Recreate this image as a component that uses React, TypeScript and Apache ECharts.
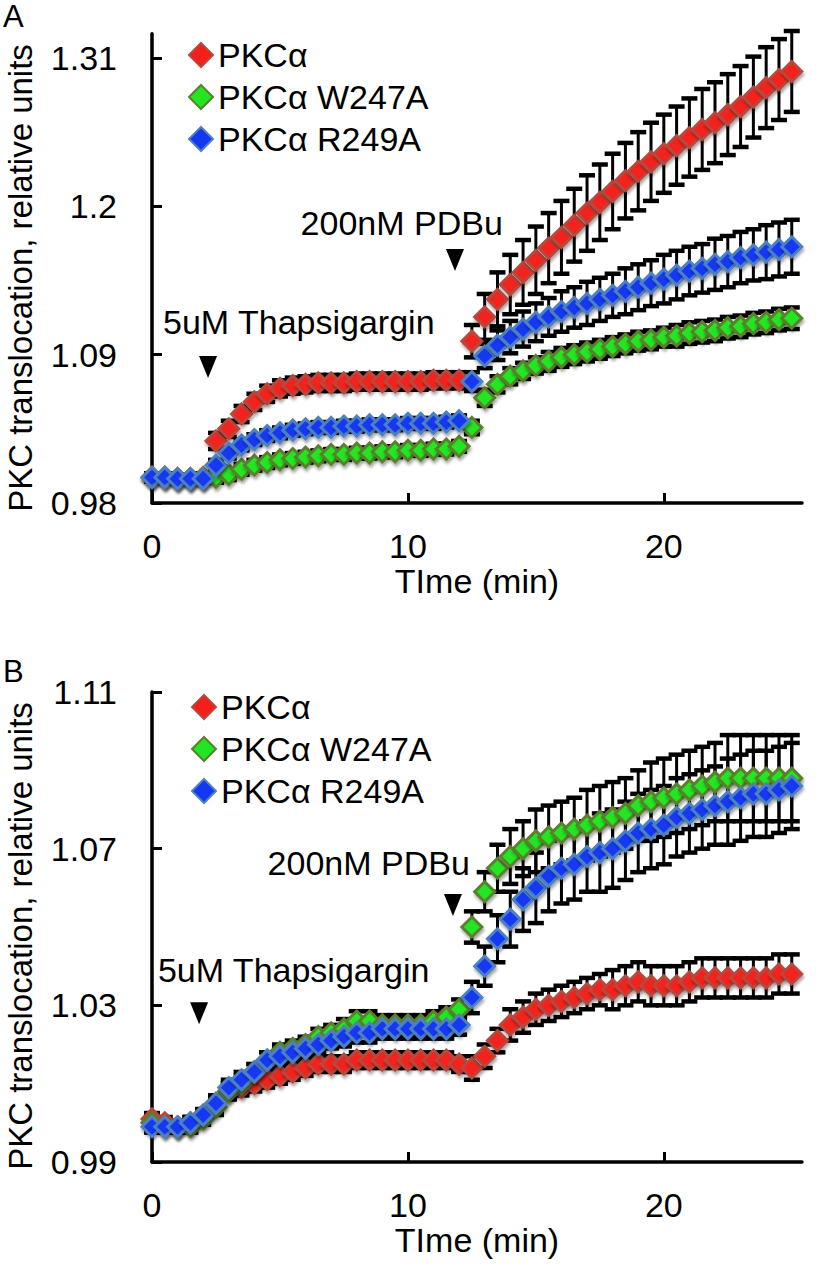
import React, { useEffect, useRef } from "react";
import * as echarts from "echarts";

const FONT = "'Liberation Sans', Arial, Helvetica, sans-serif";

const SERIES_NAMES = ["PKCα", "PKCα W247A", "PKCα R249A"];

const TIME = [0, 0.5, 1, 1.5, 2, 2.5, 3, 3.5, 4, 4.5, 5, 5.5, 6, 6.5, 7, 7.5, 8, 8.5, 9, 9.5, 10, 10.5, 11, 11.5, 12, 12.5, 13, 13.5, 14, 14.5, 15, 15.5, 16, 16.5, 17, 17.5, 18, 18.5, 19, 19.5, 20, 20.5, 21, 21.5, 22, 22.5, 23, 23.5, 24, 24.5, 25];

const X_TICKS = [0, 10, 20];
const A_Y_TICKS = [0.98, 1.09, 1.2, 1.31];
const B_Y_TICKS = [0.99, 1.03, 1.07, 1.11];

// Panel A
const A_WT = [0.999, 0.999, 0.998, 0.998, 0.999, 1.026, 1.035, 1.046, 1.055, 1.061, 1.065, 1.067, 1.068, 1.069, 1.069, 1.069, 1.070, 1.070, 1.070, 1.070, 1.070, 1.070, 1.071, 1.071, 1.071, 1.100, 1.118, 1.131, 1.142, 1.151, 1.160, 1.169, 1.177, 1.186, 1.195, 1.203, 1.211, 1.219, 1.226, 1.233, 1.239, 1.245, 1.251, 1.257, 1.262, 1.268, 1.274, 1.281, 1.288, 1.294, 1.300];
const A_W247A = [0.999, 0.999, 0.998, 0.998, 0.998, 0.999, 1.001, 1.005, 1.008, 1.010, 1.012, 1.013, 1.014, 1.015, 1.016, 1.016, 1.017, 1.017, 1.018, 1.018, 1.019, 1.019, 1.020, 1.020, 1.022, 1.036, 1.058, 1.068, 1.074, 1.078, 1.082, 1.085, 1.088, 1.090, 1.092, 1.094, 1.096, 1.098, 1.100, 1.101, 1.103, 1.104, 1.106, 1.107, 1.108, 1.110, 1.111, 1.113, 1.114, 1.116, 1.117];
const A_R249A = [0.999, 0.999, 0.998, 0.998, 0.998, 1.008, 1.017, 1.023, 1.027, 1.030, 1.032, 1.034, 1.035, 1.036, 1.036, 1.037, 1.037, 1.038, 1.038, 1.038, 1.039, 1.039, 1.039, 1.040, 1.041, 1.070, 1.089, 1.097, 1.103, 1.109, 1.114, 1.118, 1.122, 1.125, 1.128, 1.131, 1.134, 1.137, 1.140, 1.143, 1.146, 1.149, 1.152, 1.154, 1.157, 1.159, 1.162, 1.164, 1.166, 1.168, 1.170];

const A_WT_ERR = [0.003, 0.003, 0.003, 0.003, 0.003, 0.006, 0.006, 0.006, 0.006, 0.006, 0.006, 0.006, 0.006, 0.006, 0.006, 0.006, 0.006, 0.006, 0.006, 0.006, 0.006, 0.006, 0.006, 0.006, 0.006, 0.012, 0.017, 0.020, 0.022, 0.024, 0.025, 0.026, 0.027, 0.027, 0.028, 0.028, 0.028, 0.028, 0.029, 0.029, 0.029, 0.029, 0.029, 0.030, 0.030, 0.030, 0.030, 0.030, 0.030, 0.030, 0.030];
const A_W247A_ERR = [0.003, 0.003, 0.003, 0.003, 0.003, 0.004, 0.004, 0.004, 0.004, 0.004, 0.004, 0.004, 0.004, 0.004, 0.004, 0.004, 0.004, 0.004, 0.004, 0.004, 0.004, 0.004, 0.004, 0.004, 0.004, 0.005, 0.006, 0.006, 0.006, 0.006, 0.006, 0.007, 0.007, 0.007, 0.007, 0.007, 0.007, 0.007, 0.007, 0.007, 0.007, 0.008, 0.008, 0.008, 0.008, 0.008, 0.008, 0.008, 0.008, 0.008, 0.008];
const A_R249A_ERR = [0.003, 0.003, 0.003, 0.003, 0.003, 0.004, 0.004, 0.004, 0.004, 0.004, 0.004, 0.004, 0.004, 0.004, 0.004, 0.004, 0.004, 0.004, 0.004, 0.004, 0.004, 0.004, 0.004, 0.004, 0.004, 0.007, 0.009, 0.011, 0.012, 0.013, 0.014, 0.014, 0.015, 0.015, 0.016, 0.016, 0.016, 0.017, 0.017, 0.017, 0.018, 0.018, 0.018, 0.018, 0.019, 0.019, 0.019, 0.019, 0.020, 0.020, 0.020];

// Panel B
const B_WT = [1.001, 1.000, 0.999, 1.000, 1.002, 1.005, 1.008, 1.009, 1.010, 1.011, 1.012, 1.013, 1.014, 1.015, 1.015, 1.015, 1.016, 1.016, 1.016, 1.016, 1.016, 1.016, 1.016, 1.016, 1.015, 1.014, 1.017, 1.021, 1.025, 1.027, 1.029, 1.030, 1.031, 1.032, 1.033, 1.034, 1.034, 1.035, 1.036, 1.035, 1.035, 1.035, 1.036, 1.037, 1.037, 1.037, 1.037, 1.037, 1.037, 1.038, 1.038];
const B_W247A = [1.000, 0.999, 0.999, 0.999, 1.001, 1.004, 1.008, 1.010, 1.013, 1.016, 1.018, 1.019, 1.020, 1.022, 1.023, 1.024, 1.026, 1.026, 1.025, 1.025, 1.025, 1.025, 1.026, 1.027, 1.029, 1.050, 1.059, 1.065, 1.068, 1.070, 1.072, 1.073, 1.074, 1.075, 1.076, 1.077, 1.078, 1.079, 1.081, 1.082, 1.083, 1.084, 1.085, 1.086, 1.087, 1.088, 1.088, 1.088, 1.088, 1.088, 1.088];
const B_R249A = [0.999, 0.999, 0.999, 1.000, 1.002, 1.005, 1.009, 1.011, 1.013, 1.016, 1.017, 1.018, 1.019, 1.020, 1.021, 1.022, 1.023, 1.023, 1.024, 1.024, 1.024, 1.024, 1.024, 1.024, 1.025, 1.032, 1.040, 1.047, 1.052, 1.057, 1.060, 1.063, 1.065, 1.066, 1.068, 1.069, 1.070, 1.072, 1.074, 1.075, 1.076, 1.078, 1.079, 1.080, 1.081, 1.082, 1.083, 1.084, 1.084, 1.085, 1.086];

const B_WT_ERR = [0.0015, 0.0015, 0.0015, 0.0015, 0.0015, 0.002, 0.002, 0.002, 0.002, 0.002, 0.002, 0.002, 0.002, 0.002, 0.002, 0.002, 0.002, 0.002, 0.002, 0.002, 0.002, 0.002, 0.002, 0.002, 0.002, 0.003, 0.003, 0.003, 0.004, 0.004, 0.004, 0.004, 0.004, 0.004, 0.004, 0.004, 0.005, 0.005, 0.005, 0.005, 0.005, 0.005, 0.005, 0.005, 0.005, 0.005, 0.005, 0.005, 0.005, 0.005, 0.005];
const B_W247A_ERR = [0.0015, 0.0015, 0.0015, 0.0015, 0.0015, 0.002, 0.002, 0.002, 0.002, 0.002, 0.002, 0.002, 0.002, 0.002, 0.002, 0.0025, 0.0025, 0.0025, 0.0025, 0.0025, 0.0025, 0.0025, 0.0025, 0.0025, 0.0025, 0.004, 0.005, 0.006, 0.007, 0.007, 0.008, 0.008, 0.008, 0.008, 0.009, 0.009, 0.009, 0.009, 0.009, 0.010, 0.010, 0.010, 0.010, 0.010, 0.010, 0.011, 0.011, 0.011, 0.011, 0.011, 0.011];
const B_R249A_ERR = [0.0015, 0.0015, 0.0015, 0.0015, 0.0015, 0.002, 0.002, 0.002, 0.002, 0.002, 0.002, 0.002, 0.002, 0.002, 0.002, 0.0025, 0.0025, 0.0025, 0.0025, 0.0025, 0.0025, 0.0025, 0.0025, 0.0025, 0.0025, 0.004, 0.005, 0.006, 0.007, 0.008, 0.009, 0.009, 0.009, 0.009, 0.009, 0.010, 0.010, 0.010, 0.010, 0.010, 0.010, 0.010, 0.010, 0.010, 0.010, 0.011, 0.011, 0.011, 0.011, 0.011, 0.011];

// Annotations (data coordinates)
const ANNOTATIONS = [
  { panel: 0, text: "5uM Thapsigargin", textT: 0.43, textV: 1.1142, align: "left", arrowT: 2.19, arrowV: 1.0809 },
  { panel: 0, text: "200nM PDBu", textT: 13.71, textV: 1.1876, align: "right", arrowT: 11.84, arrowV: 1.1602 },
  { panel: 1, text: "5uM Thapsigargin", textT: 0.23, textV: 1.039, align: "left", arrowT: 1.84, arrowV: 1.028 },
  { panel: 1, text: "200nM PDBu", textT: 12.42, textV: 1.0663, align: "right", arrowT: 11.76, arrowV: 1.0556 },
];

const STYLES = [
  { color: "#f3201a", borderColor: "#b8473e" },
  { color: "#22e622", borderColor: "#5b7f2e" },
  { color: "#1438f2", borderColor: "#4e80c2" },
];

function errorSeries(panel: number, idx: number, vals: number[], errs: number[]) {
  return {
    type: "custom",
    name: "err-" + panel + "-" + idx,
    xAxisIndex: panel,
    yAxisIndex: panel,
    z: 1,
    silent: true,
    encode: { x: 0, y: [1, 2] },
    data: TIME.map((t, i) => [t, vals[i] - errs[i], vals[i] + errs[i]]),
    renderItem: (params: any, api: any) => {
      const lo = api.coord([api.value(0), api.value(1)]);
      const hi = api.coord([api.value(0), api.value(2)]);
      const w = 8;
      return {
        type: "group",
        children: [
          { type: "line", shape: { x1: lo[0], y1: lo[1], x2: hi[0], y2: hi[1] }, style: { stroke: "#000", lineWidth: 3 } },
          { type: "line", shape: { x1: lo[0] - w, y1: lo[1], x2: lo[0] + w, y2: lo[1] }, style: { stroke: "#000", lineWidth: 4.5 } },
          { type: "line", shape: { x1: hi[0] - w, y1: hi[1], x2: hi[0] + w, y2: hi[1] }, style: { stroke: "#000", lineWidth: 4.5 } },
        ],
      };
    },
  };
}

function markerSeries(panel: number, idx: number, vals: number[]) {
  return {
    type: "scatter",
    name: SERIES_NAMES[idx],
    xAxisIndex: panel,
    yAxisIndex: panel,
    z: 3,
    symbol: "diamond",
    symbolSize: 20,
    itemStyle: {
      color: STYLES[idx].color,
      borderColor: STYLES[idx].borderColor,
      borderWidth: 3,
      opacity: 1,
      shadowBlur: 3,
      shadowColor: "rgba(0,0,0,0.35)",
      shadowOffsetX: 1,
      shadowOffsetY: 3,
    },
    data: TIME.map((t, i) => [t, vals[i]]),
  };
}

function xAxis(grid: number) {
  return {
    gridIndex: grid,
    type: "value",
    min: 0,
    max: 25.4,
    axisLine: { show: true, onZero: false, lineStyle: { color: "#000", width: 3.5 } },
    axisTick: { show: true, inside: true, length: 10, customValues: X_TICKS, lineStyle: { color: "#000", width: 3 } },
    axisLabel: { customValues: X_TICKS, fontSize: 34, color: "#000", fontFamily: FONT, margin: 26 },
    splitLine: { show: false },
    name: "TIme (min)",
    nameLocation: "middle",
    nameGap: 61,
    nameTextStyle: { fontSize: 34, color: "#000", fontFamily: FONT },
  };
}

function yAxis(grid: number, min: number, max: number, ticks: number[]) {
  return {
    gridIndex: grid,
    type: "value",
    min,
    max,
    axisLine: { show: true, onZero: false, lineStyle: { color: "#000", width: 3.5 } },
    axisTick: { show: true, inside: true, length: 10, customValues: ticks, lineStyle: { color: "#000", width: 3 } },
    axisLabel: {
      customValues: ticks,
      fontSize: 34,
      color: "#000",
      fontFamily: FONT,
      margin: 35,
      formatter: (v: number) => String(Math.round(v * 100) / 100),
    },
    splitLine: { show: false },
  };
}

function legend(left: number, top: number) {
  return {
    left,
    top,
    orient: "vertical",
    padding: 0,
    itemWidth: 24,
    itemHeight: 24,
    itemGap: 8,
    selectedMode: false,
    textStyle: { fontSize: 34, color: "#000", fontFamily: FONT },
    data: SERIES_NAMES,
  };
}

export default function App() {
  const ref = useRef<HTMLDivElement>(null);
  useEffect(() => {
    if (!ref.current) return;
    const chart = echarts.init(ref.current, null, { renderer: "svg" });
    chart.setOption({
      animation: false,
      backgroundColor: "#fff",
      textStyle: { fontFamily: FONT },
      grid: [
        { left: 152, top: 33.7, width: 650, height: 469.3 },
        { left: 152, top: 692, width: 650, height: 470 },
      ],
      xAxis: [xAxis(0), xAxis(1)],
      yAxis: [yAxis(0, 0.98, 1.328, A_Y_TICKS), yAxis(1, 0.99, 1.11, B_Y_TICKS)],
      legend: [legend(188, 38), legend(191, 690)],
      series: [
        errorSeries(0, 0, A_WT, A_WT_ERR),
        errorSeries(0, 1, A_W247A, A_W247A_ERR),
        errorSeries(0, 2, A_R249A, A_R249A_ERR),
        markerSeries(0, 0, A_WT),
        markerSeries(0, 1, A_W247A),
        markerSeries(0, 2, A_R249A),
        errorSeries(1, 0, B_WT, B_WT_ERR),
        errorSeries(1, 1, B_W247A, B_W247A_ERR),
        errorSeries(1, 2, B_R249A, B_R249A_ERR),
        markerSeries(1, 0, B_WT),
        markerSeries(1, 1, B_W247A),
        markerSeries(1, 2, B_R249A),
      ],
    });

    const graphics: any[] = [
      { type: "text", left: 3, top: 1, style: { text: "A", fontSize: 31, fontFamily: FONT, fill: "#000" } },
      { type: "text", left: 3, top: 656, style: { text: "B", fontSize: 31, fontFamily: FONT, fill: "#000" } },
      {
        type: "text", x: 20, y: 278, rotation: Math.PI / 2,
        style: { text: "PKC translocation, relative units", fontSize: 33, fontFamily: FONT, fill: "#000", align: "center", verticalAlign: "middle" },
      },
      {
        type: "text", x: 20, y: 936, rotation: Math.PI / 2,
        style: { text: "PKC translocation, relative units", fontSize: 33, fontFamily: FONT, fill: "#000", align: "center", verticalAlign: "middle" },
      },
    ];
    ANNOTATIONS.forEach((a) => {
      const p = chart.convertToPixel({ xAxisIndex: a.panel, yAxisIndex: a.panel }, [a.textT, a.textV]) as number[];
      const q = chart.convertToPixel({ xAxisIndex: a.panel, yAxisIndex: a.panel }, [a.arrowT, a.arrowV]) as number[];
      graphics.push({
        type: "text", x: p[0], y: p[1],
        style: { text: a.text, fontSize: 34, fontFamily: FONT, fill: "#000", align: a.align, verticalAlign: "middle" },
      });
      graphics.push({
        type: "polygon",
        shape: { points: [[q[0] - 9, q[1] - 11], [q[0] + 9, q[1] - 11], [q[0], q[1] + 11]] },
        style: { fill: "#000" },
      });
    });
    chart.setOption({ graphic: graphics });
    return () => chart.dispose();
  }, []);
  return <div ref={ref} style={{ position: "absolute", left: 0, top: 0, width: 816, height: 1266 }} />;
}
